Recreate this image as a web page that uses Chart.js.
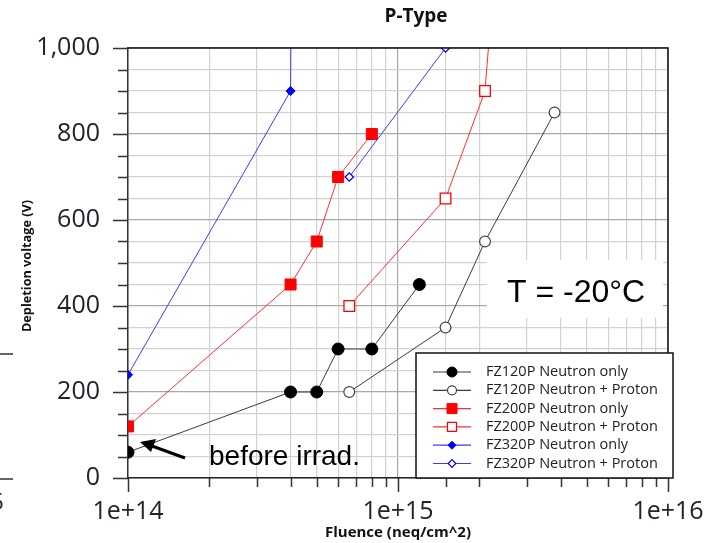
<!DOCTYPE html>
<html>
<head>
<meta charset="utf-8">
<script src="https://cdn.jsdelivr.net/npm/chart.js@4/dist/chart.umd.min.js"></script>
<style>
  body { margin: 0; background: #fff; }
  canvas { display: block; }
</style>
</head>
<body>
<canvas id="depletionChart" width="705" height="543"></canvas>
<script>
// fluence (neq/cm^2) and full depletion voltage (V) per sample
var fz120nFluence = [1e14, 4e14, 5e14, 6e14, 8e14, 1.2e15];
var fz120nVoltage = [60, 200, 200, 300, 300, 450];
var fz120npFluence = [6.6e14, 1.5e15, 2.1e15, 3.8e15];
var fz120npVoltage = [200, 350, 550, 850];
var fz200nFluence = [1e14, 4e14, 5e14, 6e14, 8e14];
var fz200nVoltage = [120, 450, 550, 700, 800];
var fz200npFluence = [6.6e14, 1.5e15, 2.1e15, 2.5e15];
var fz200npVoltage = [400, 650, 900, 1500];
var fz320nFluence = [1e14, 4e14, 4.1e14];
var fz320nVoltage = [240, 900, 2000];
var fz320npFluence = [6.6e14, 1.5e15];
var fz320npVoltage = [700, 1000];

var seriesLabels = ['FZ120P Neutron only', 'FZ120P Neutron + Proton', 'FZ200P Neutron only',
  'FZ200P Neutron + Proton', 'FZ320P Neutron only', 'FZ320P Neutron + Proton'];
var xTickLabels = ['1e+14', '1e+15', '1e+16'];
var yTickLabels = ['0', '200', '400', '600', '800', '1,000'];

function pts(xs, ys) {
  return xs.map(function (x, i) { return { x: x, y: ys[i] }; });
}
function isDecade(v) {
  var l = Math.log10(v);
  return Math.abs(l - Math.round(l)) < 1e-6;
}

// marker used in the legend box
function marker(ctx, style, r, x, y, fill, stroke, lw) {
  ctx.beginPath();
  if (style === 'circle') {
    ctx.arc(x, y, r, 0, Math.PI * 2);
  } else if (style === 'rect') {
    ctx.rect(x - r, y - r, 2 * r, 2 * r);
  } else {
    ctx.moveTo(x - r, y); ctx.lineTo(x, y - r); ctx.lineTo(x + r, y); ctx.lineTo(x, y + r);
    ctx.closePath();
  }
  ctx.fillStyle = fill; ctx.fill();
  ctx.lineWidth = lw; ctx.strokeStyle = stroke; ctx.stroke();
}

var legendMarkers = [
  { style: 'circle', r: 5, fill: '#000', stroke: '#000', lw: 1 },
  { style: 'circle', r: 4.5, fill: '#fff', stroke: '#444', lw: 1.2 },
  { style: 'rect', r: 5, fill: '#f00', stroke: '#f00', lw: 1 },
  { style: 'rect', r: 4.5, fill: '#fff', stroke: '#f00', lw: 1.2 },
  { style: 'rectRot', r: 4, fill: '#00f', stroke: '#00f', lw: 1 },
  { style: 'rectRot', r: 3.8, fill: '#fff', stroke: '#00f', lw: 1.2 }
];

var decorations = {
  id: 'decorations',
  beforeDraw: function (chart) {
    var ctx = chart.ctx;
    ctx.save();
    ctx.fillStyle = '#fff';
    ctx.fillRect(0, 0, chart.width, chart.height);
    // fragments at the left edge
    ctx.strokeStyle = '#333';
    ctx.lineWidth = 1.5;
    ctx.beginPath();
    ctx.moveTo(0, 354); ctx.lineTo(13, 354);
    ctx.moveTo(0, 479); ctx.lineTo(13, 479);
    ctx.stroke();
    ctx.fillStyle = '#2a2a40';
    ctx.font = '24px "Open Sans"';
    ctx.textAlign = 'right';
    ctx.textBaseline = 'middle';
    ctx.fillText('5', 4, 503);
    ctx.restore();
  },
  beforeDatasetsDraw: function (chart) {
    var ctx = chart.ctx;
    ctx.save();
    ctx.fillStyle = '#fff';
    ctx.fillRect(487, 260, 176, 58);
    ctx.restore();
  },
  afterDraw: function (chart) {
    var ctx = chart.ctx;
    var a = chart.chartArea;
    var xs = chart.scales.x, ys = chart.scales.y;
    ctx.save();

    // top and right frame
    ctx.strokeStyle = '#111';
    ctx.lineWidth = 1.5;
    ctx.beginPath();
    ctx.moveTo(a.left, a.top); ctx.lineTo(a.right, a.top); ctx.lineTo(a.right, a.bottom);
    ctx.stroke();

    // tick marks
    ctx.strokeStyle = '#333';
    ctx.lineWidth = 1.5;
    ctx.beginPath();
    xs.ticks.forEach(function (t) {
      var px = Math.round(xs.getPixelForValue(t.value)) + 0.5;
      ctx.moveTo(px, a.bottom);
      ctx.lineTo(px, a.bottom + (isDecade(t.value) ? 14 : 9));
    });
    ys.ticks.forEach(function (t) {
      var py = Math.round(ys.getPixelForValue(t.value)) + 0.5;
      ctx.moveTo(a.left, py);
      ctx.lineTo(a.left - (t.value % 200 === 0 ? 15 : 10), py);
    });
    ctx.stroke();

    // title
    ctx.fillStyle = '#111';
    ctx.font = 'bold 19px "Open Sans"';
    ctx.textAlign = 'center';
    ctx.textBaseline = 'middle';
    ctx.fillText('P-Type', 416, 17);

    // y axis title
    ctx.save();
    ctx.translate(27, 266);
    ctx.rotate(-Math.PI / 2);
    ctx.font = 'bold 12.7px "Open Sans"';
    ctx.fillText('Depletion voltage (V)', 0, 0);
    ctx.restore();

    // temperature note
    ctx.fillStyle = '#000';
    ctx.font = '32px "Liberation Sans"';
    ctx.textAlign = 'left';
    ctx.textBaseline = 'alphabetic';
    ctx.fillText('T = -20\u00B0C', 507, 302);

    // unirradiated point note
    ctx.font = '28px "Liberation Sans"';
    ctx.fillText('before irrad.', 209, 465);
    ctx.strokeStyle = '#000';
    ctx.lineWidth = 3;
    ctx.beginPath();
    ctx.moveTo(185, 458); ctx.lineTo(152, 446);
    ctx.stroke();
    ctx.beginPath();
    ctx.moveTo(140, 442); ctx.lineTo(156, 439); ctx.lineTo(151, 452);
    ctx.closePath();
    ctx.fillStyle = '#000';
    ctx.fill();

    // legend box
    ctx.fillStyle = '#fff';
    ctx.fillRect(416, 353, 257, 125);
    ctx.strokeStyle = '#111';
    ctx.lineWidth = 1.5;
    ctx.strokeRect(416, 353, 257, 125);
    ctx.font = '14.5px "Open Sans"';
    ctx.textBaseline = 'middle';
    chart.data.datasets.forEach(function (ds, i) {
      var y = 372 + i * 18.3;
      ctx.strokeStyle = ds.borderColor;
      ctx.lineWidth = 1.2;
      ctx.beginPath();
      ctx.moveTo(433, y); ctx.lineTo(471, y);
      ctx.stroke();
      var m = legendMarkers[i];
      marker(ctx, m.style, m.r, 452, y, m.fill, m.stroke, m.lw);
      ctx.fillStyle = '#222';
      ctx.fillText(ds.label, 486, y);
    });
    ctx.restore();
  }
};

var ctx = document.getElementById('depletionChart');
var depletionChart = new Chart(ctx, {
  type: 'line',
  data: {
    datasets: [{
      label: seriesLabels[0],
      data: pts(fz120nFluence, fz120nVoltage),
      borderColor: '#3a3a3a', borderWidth: 1,
      pointStyle: 'circle', pointRadius: 6,
      pointBackgroundColor: '#000', pointBorderColor: '#000', pointBorderWidth: 1
    }, {
      label: seriesLabels[1],
      data: pts(fz120npFluence, fz120npVoltage),
      borderColor: '#3a3a3a', borderWidth: 1,
      pointStyle: 'circle', pointRadius: 5.4,
      pointBackgroundColor: '#fff', pointBorderColor: '#444', pointBorderWidth: 1.2
    }, {
      label: seriesLabels[2],
      data: pts(fz200nFluence, fz200nVoltage),
      borderColor: '#ff3030', borderWidth: 1,
      pointStyle: 'rect', pointRadius: 7.8,
      pointBackgroundColor: '#ff0000', pointBorderColor: '#ff0000', pointBorderWidth: 1
    }, {
      label: seriesLabels[3],
      data: pts(fz200npFluence, fz200npVoltage),
      borderColor: '#ff3030', borderWidth: 1,
      pointStyle: 'rect', pointRadius: 7.5,
      pointBackgroundColor: '#fff', pointBorderColor: '#ff0000', pointBorderWidth: 1.3
    }, {
      label: seriesLabels[4],
      data: pts(fz320nFluence, fz320nVoltage),
      borderColor: '#3a3aff', borderWidth: 1,
      pointStyle: 'rectRot', pointRadius: [4.6, 4.6, 0],
      pointBackgroundColor: '#0000ff', pointBorderColor: '#0000ff', pointBorderWidth: 1
    }, {
      label: seriesLabels[5],
      data: pts(fz320npFluence, fz320npVoltage),
      borderColor: '#3a3aff', borderWidth: 1,
      pointStyle: 'rectRot', pointRadius: 4.2,
      pointBackgroundColor: '#fff', pointBorderColor: '#0000ff', pointBorderWidth: 1.3
    }]
  },
  options: {
    responsive: false,
    animation: false,
    events: [],
    layout: { padding: { top: 48, right: 37, bottom: 0, left: 0 } },
    plugins: {
      legend: { display: false },
      title: { display: false },
      tooltip: { enabled: false }
    },
    scales: {
      x: {
        type: 'logarithmic',
        min: 1e14,
        max: 1e16,
        afterFit: function (s) {
          s.height = 65;
          s.paddingLeft = 0;
          s.paddingRight = 0;
        },
        border: { color: '#222', width: 1.5 },
        grid: {
          drawTicks: false,
          color: function (c) { return c.tick && isDecade(c.tick.value) ? '#a8a8a8' : '#d2d2d2'; },
          lineWidth: 1.2
        },
        ticks: {
          autoSkip: false,
          maxRotation: 0,
          minRotation: 0,
          padding: 19,
          color: '#22222e',
          font: { family: 'Open Sans', size: 25 },
          callback: function (v) {
            return isDecade(v) ? xTickLabels[Math.round(Math.log10(v)) - 14] : '';
          }
        },
        title: {
          display: true,
          text: 'Fluence (neq/cm^2)',
          color: '#111',
          font: { family: 'Open Sans', size: 15, weight: 'bold' },
          padding: { top: 0, bottom: 1 }
        }
      },
      y: {
        min: 0,
        max: 1000,
        afterFit: function (s) { s.width = 128; },
        border: { color: '#333', width: 1.5 },
        grid: {
          drawTicks: false,
          color: function (c) { return c.tick && c.tick.value % 200 === 0 ? '#a8a8a8' : '#d2d2d2'; },
          lineWidth: 1.2
        },
        ticks: {
          stepSize: 50,
          autoSkip: false,
          padding: 28,
          color: '#22222e',
          font: { family: 'Open Sans', size: 25 },
          callback: function (v) {
            return v % 200 === 0 ? yTickLabels[v / 200] : '';
          }
        }
      }
    }
  },
  plugins: [decorations]
});
</script>
</body>
</html>
